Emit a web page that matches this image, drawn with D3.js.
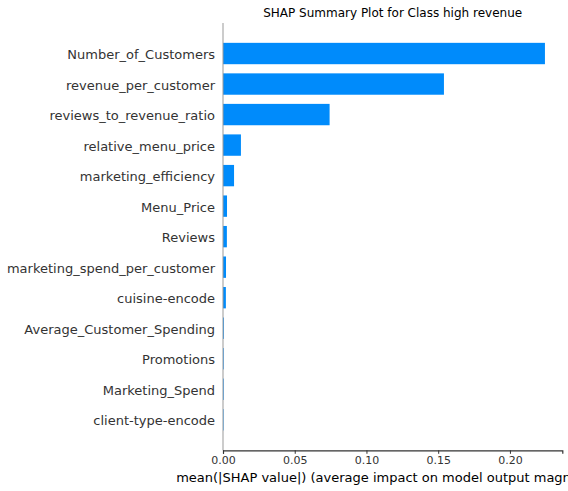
<!DOCTYPE html>
<html><head><meta charset="utf-8">
<script src="https://cdn.jsdelivr.net/npm/d3@7"></script>
<style>body{margin:0;background:#fff;overflow:hidden}svg{display:block}text{font-family:"DejaVu Sans",sans-serif}</style>
</head><body>
<script>
const features = ["Number_of_Customers","revenue_per_customer","reviews_to_revenue_ratio","relative_menu_price","marketing_efficiency","Menu_Price","Reviews","marketing_spend_per_customer","cuisine-encode","Average_Customer_Spending","Promotions","Marketing_Spend","client-type-encode"];
const values = [0.2244,0.154,0.0743,0.0125,0.0077,0.0028,0.0027,0.0021,0.0020,0.0006,0.0005,0.0005,0.0004];
const xTicks = [0,0.05,0.10,0.15,0.20];
const title = "SHAP Summary Plot for Class high revenue";
const xLabel = "mean(|SHAP value|) (average impact on model output magnitude)";

const W=568,H=491;
const mLeft=223,mRight=562.3,mTop=23,mBottom=450.3;
const svg=d3.select("body").append("svg").attr("width",W).attr("height",H);
const x=d3.scaleLinear().domain([0,0.2365]).range([mLeft,mRight]);
const n=features.length;
const y=d3.scaleLinear().domain([-1,n]).range([mBottom,mTop]);
const rowPos=(d,i)=>y(n-1-i);
const bh=(y(0)-y(0.7));

svg.append("g").selectAll("rect").data(values).join("rect")
 .attr("x",x(0)).attr("width",d=>Math.max(0,x(d)-x(0)))
 .attr("y",(d,i)=>rowPos(d,i)-bh/2).attr("height",bh)
 .attr("fill","#008bfb");

svg.append("line").attr("x1",x(0)).attr("x2",x(0)).attr("y1",mTop).attr("y2",mBottom).attr("stroke","#999999").attr("stroke-width",1);

svg.append("g").selectAll("text").data(features).join("text")
 .attr("x",mLeft-8).attr("y",(d,i)=>rowPos(d,i)).attr("dy","0.43em")
 .attr("text-anchor","end").attr("font-size",13).attr("fill","#333333").text(d=>d);

const ax=svg.append("g").attr("transform",`translate(0,${mBottom})`)
 .call(d3.axisBottom(x).tickValues(xTicks).tickFormat(d3.format(".2f")).tickSize(3.5).tickPadding(2.5));
ax.select(".domain").attr("stroke","#333333").attr("stroke-width",1.2);
ax.selectAll(".tick line").attr("stroke","#333333");
ax.selectAll("text").attr("font-size",11).attr("fill","#333333").attr("font-family","DejaVu Sans");

svg.append("text").attr("x",(mLeft+mRight)/2).attr("y",481.5).attr("text-anchor","middle")
 .attr("font-size",13).attr("fill","#000").text(xLabel);
svg.append("text").attr("x",(mLeft+mRight)/2).attr("y",17).attr("text-anchor","middle")
 .attr("font-size",12).attr("fill","#000").text(title);
</script>
</body></html>
